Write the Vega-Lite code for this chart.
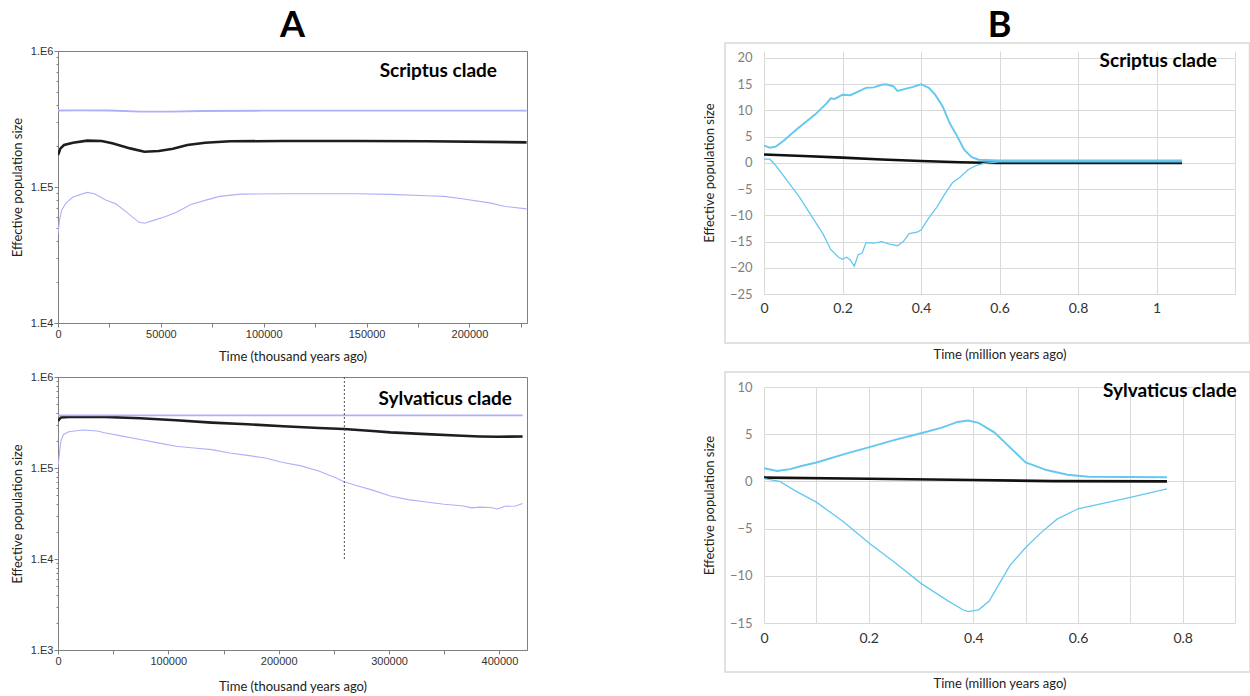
{
  "$schema": "https://vega.github.io/schema/vega-lite/v6.json",
  "background": "white",
  "padding": {"left": 10, "top": 7, "right": 0, "bottom": 0},
  "config": {"view": {"stroke": null}, "font": "Lato"},
  "resolve": {"scale": {"color": "independent", "strokeWidth": "independent"}},
  "datasets": {
    "aTop": [
      {"t": 0, "ne": 171700, "s": "median"}, {"t": 1200, "ne": 192300, "s": "median"}, {"t": 2950, "ne": 203500, "s": "median"}, {"t": 7300, "ne": 211800, "s": "median"}, {"t": 14200, "ne": 219100, "s": "median"}, {"t": 21200, "ne": 217900, "s": "median"}, {"t": 26400, "ne": 209400, "s": "median"}, {"t": 35100, "ne": 192300, "s": "median"}, {"t": 42000, "ne": 181700, "s": "median"}, {"t": 49000, "ne": 183800, "s": "median"}, {"t": 55900, "ne": 191200, "s": "median"}, {"t": 62900, "ne": 203500, "s": "median"}, {"t": 71500, "ne": 211800, "s": "median"}, {"t": 83700, "ne": 216700, "s": "median"}, {"t": 109700, "ne": 217900, "s": "median"}, {"t": 144400, "ne": 217900, "s": "median"}, {"t": 179200, "ne": 216700, "s": "median"}, {"t": 227800, "ne": 213000, "s": "median"},
      {"t": 0, "ne": 45100, "s": "lower"}, {"t": 700, "ne": 56600, "s": "lower"}, {"t": 1700, "ne": 67200, "s": "lower"}, {"t": 3800, "ne": 76100, "s": "lower"}, {"t": 7300, "ne": 84300, "s": "lower"}, {"t": 14200, "ne": 91300, "s": "lower"}, {"t": 17700, "ne": 89200, "s": "lower"}, {"t": 22900, "ne": 80600, "s": "lower"}, {"t": 28100, "ne": 75200, "s": "lower"}, {"t": 33300, "ne": 65300, "s": "lower"}, {"t": 39400, "ne": 55000, "s": "lower"}, {"t": 42000, "ne": 54100, "s": "lower"}, {"t": 47200, "ne": 57300, "s": "lower"}, {"t": 52400, "ne": 60600, "s": "lower"}, {"t": 57600, "ne": 65300, "s": "lower"}, {"t": 64600, "ne": 74400, "s": "lower"}, {"t": 71500, "ne": 79700, "s": "lower"}, {"t": 78500, "ne": 85300, "s": "lower"}, {"t": 88900, "ne": 88700, "s": "lower"}, {"t": 109700, "ne": 89200, "s": "lower"}, {"t": 144400, "ne": 89200, "s": "lower"}, {"t": 161800, "ne": 88200, "s": "lower"}, {"t": 179200, "ne": 86300, "s": "lower"}, {"t": 187800, "ne": 85300, "s": "lower"}, {"t": 196500, "ne": 82000, "s": "lower"}, {"t": 210400, "ne": 76100, "s": "lower"}, {"t": 217400, "ne": 71900, "s": "lower"}, {"t": 227800, "ne": 69100, "s": "lower"},
      {"t": 0, "ne": 365000, "s": "upper"}, {"t": 10000, "ne": 366000, "s": "upper"}, {"t": 25000, "ne": 365000, "s": "upper"}, {"t": 40000, "ne": 358000, "s": "upper"}, {"t": 55000, "ne": 358000, "s": "upper"}, {"t": 70000, "ne": 362000, "s": "upper"}, {"t": 100000, "ne": 364000, "s": "upper"}, {"t": 150000, "ne": 364000, "s": "upper"}, {"t": 227800, "ne": 364000, "s": "upper"}
    ],
    "aBot": [
      {"t": 0, "ne": 329400, "s": "median"}, {"t": 2600, "ne": 358700, "s": "median"}, {"t": 9700, "ne": 364900, "s": "median"}, {"t": 42100, "ne": 364900, "s": "median"}, {"t": 74500, "ne": 352600, "s": "median"}, {"t": 106900, "ne": 335000, "s": "median"}, {"t": 139300, "ne": 315600, "s": "median"}, {"t": 171700, "ne": 302400, "s": "median"}, {"t": 204000, "ne": 287200, "s": "median"}, {"t": 236400, "ne": 275300, "s": "median"}, {"t": 259100, "ne": 268300, "s": "median"}, {"t": 285000, "ne": 254800, "s": "median"}, {"t": 301200, "ne": 246300, "s": "median"}, {"t": 333600, "ne": 235900, "s": "median"}, {"t": 366000, "ne": 226100, "s": "median"}, {"t": 382200, "ne": 222300, "s": "median"}, {"t": 398400, "ne": 220300, "s": "median"}, {"t": 421000, "ne": 222300, "s": "median"},
      {"t": 0, "ne": 378000, "s": "upper"}, {"t": 421000, "ne": 378000, "s": "upper"},
      {"t": 0, "ne": 103800, "s": "lower"}, {"t": 2600, "ne": 197100, "s": "lower"}, {"t": 4900, "ne": 233900, "s": "lower"}, {"t": 9700, "ne": 250500, "s": "lower"}, {"t": 22700, "ne": 261500, "s": "lower"}, {"t": 35600, "ne": 254800, "s": "lower"}, {"t": 42100, "ne": 244200, "s": "lower"}, {"t": 58300, "ne": 224100, "s": "lower"}, {"t": 74500, "ne": 205800, "s": "lower"}, {"t": 90700, "ne": 188900, "s": "lower"}, {"t": 106900, "ne": 173400, "s": "lower"}, {"t": 123100, "ne": 166200, "s": "lower"}, {"t": 139300, "ne": 159200, "s": "lower"}, {"t": 155500, "ne": 146200, "s": "lower"}, {"t": 171700, "ne": 137700, "s": "lower"}, {"t": 187900, "ne": 128600, "s": "lower"}, {"t": 204000, "ne": 115100, "s": "lower"}, {"t": 220200, "ne": 105600, "s": "lower"}, {"t": 236400, "ne": 92900, "s": "lower"}, {"t": 252600, "ne": 77000, "s": "lower"}, {"t": 259100, "ne": 70700, "s": "lower"}, {"t": 268800, "ne": 64900, "s": "lower"}, {"t": 285000, "ne": 57100, "s": "lower"}, {"t": 301200, "ne": 49300, "s": "lower"}, {"t": 317400, "ne": 44900, "s": "lower"}, {"t": 333600, "ne": 42300, "s": "lower"}, {"t": 349800, "ne": 40000, "s": "lower"}, {"t": 366000, "ne": 38500, "s": "lower"}, {"t": 375000, "ne": 36500, "s": "lower"}, {"t": 382200, "ne": 37200, "s": "lower"}, {"t": 391900, "ne": 36800, "s": "lower"}, {"t": 398400, "ne": 35500, "s": "lower"}, {"t": 404900, "ne": 38000, "s": "lower"}, {"t": 414600, "ne": 38200, "s": "lower"}, {"t": 421000, "ne": 40800, "s": "lower"}
    ],
    "bTop": [
      {"t": 0, "ne": 1.6, "s": "median"}, {"t": 0.1, "ne": 1.3, "s": "median"}, {"t": 0.2, "ne": 1.0, "s": "median"}, {"t": 0.3, "ne": 0.65, "s": "median"}, {"t": 0.4, "ne": 0.35, "s": "median"}, {"t": 0.5, "ne": 0.12, "s": "median"}, {"t": 0.56, "ne": 0.03, "s": "median"}, {"t": 0.6, "ne": 0.0, "s": "median"}, {"t": 1.065, "ne": 0.0, "s": "median"},
      {"t": 0, "ne": 3.3, "s": "upper"}, {"t": 0.015, "ne": 2.9, "s": "upper"}, {"t": 0.03, "ne": 3.1, "s": "upper"}, {"t": 0.05, "ne": 4.2, "s": "upper"}, {"t": 0.085, "ne": 6.5, "s": "upper"}, {"t": 0.13, "ne": 9.2, "s": "upper"}, {"t": 0.16, "ne": 11.4, "s": "upper"}, {"t": 0.17, "ne": 12.3, "s": "upper"}, {"t": 0.18, "ne": 12.2, "s": "upper"}, {"t": 0.2, "ne": 13.0, "s": "upper"}, {"t": 0.22, "ne": 12.9, "s": "upper"}, {"t": 0.24, "ne": 13.6, "s": "upper"}, {"t": 0.26, "ne": 14.3, "s": "upper"}, {"t": 0.28, "ne": 14.4, "s": "upper"}, {"t": 0.3, "ne": 14.9, "s": "upper"}, {"t": 0.31, "ne": 15.0, "s": "upper"}, {"t": 0.32, "ne": 14.8, "s": "upper"}, {"t": 0.33, "ne": 14.6, "s": "upper"}, {"t": 0.34, "ne": 13.7, "s": "upper"}, {"t": 0.36, "ne": 14.1, "s": "upper"}, {"t": 0.38, "ne": 14.5, "s": "upper"}, {"t": 0.4, "ne": 15.0, "s": "upper"}, {"t": 0.42, "ne": 14.3, "s": "upper"}, {"t": 0.436, "ne": 13.0, "s": "upper"}, {"t": 0.455, "ne": 10.8, "s": "upper"}, {"t": 0.473, "ne": 7.6, "s": "upper"}, {"t": 0.492, "ne": 5.1, "s": "upper"}, {"t": 0.51, "ne": 2.5, "s": "upper"}, {"t": 0.529, "ne": 1.1, "s": "upper"}, {"t": 0.547, "ne": 0.6, "s": "upper"}, {"t": 0.6, "ne": 0.45, "s": "upper"}, {"t": 1.065, "ne": 0.45, "s": "upper"},
      {"t": 0, "ne": 0.7, "s": "lower"}, {"t": 0.015, "ne": 0.7, "s": "lower"}, {"t": 0.03, "ne": -0.5, "s": "lower"}, {"t": 0.06, "ne": -3.5, "s": "lower"}, {"t": 0.09, "ne": -6.5, "s": "lower"}, {"t": 0.12, "ne": -10.0, "s": "lower"}, {"t": 0.15, "ne": -13.5, "s": "lower"}, {"t": 0.17, "ne": -16.5, "s": "lower"}, {"t": 0.19, "ne": -18.0, "s": "lower"}, {"t": 0.2, "ne": -18.4, "s": "lower"}, {"t": 0.21, "ne": -18.0, "s": "lower"}, {"t": 0.22, "ne": -18.5, "s": "lower"}, {"t": 0.23, "ne": -19.7, "s": "lower"}, {"t": 0.24, "ne": -17.5, "s": "lower"}, {"t": 0.25, "ne": -17.2, "s": "lower"}, {"t": 0.26, "ne": -15.2, "s": "lower"}, {"t": 0.28, "ne": -15.3, "s": "lower"}, {"t": 0.3, "ne": -15.0, "s": "lower"}, {"t": 0.32, "ne": -15.5, "s": "lower"}, {"t": 0.34, "ne": -15.8, "s": "lower"}, {"t": 0.355, "ne": -15.0, "s": "lower"}, {"t": 0.37, "ne": -13.5, "s": "lower"}, {"t": 0.39, "ne": -13.2, "s": "lower"}, {"t": 0.4, "ne": -12.8, "s": "lower"}, {"t": 0.42, "ne": -10.5, "s": "lower"}, {"t": 0.44, "ne": -8.5, "s": "lower"}, {"t": 0.46, "ne": -6.0, "s": "lower"}, {"t": 0.48, "ne": -3.8, "s": "lower"}, {"t": 0.5, "ne": -2.7, "s": "lower"}, {"t": 0.52, "ne": -1.3, "s": "lower"}, {"t": 0.54, "ne": -0.5, "s": "lower"}, {"t": 0.56, "ne": -0.1, "s": "lower"}, {"t": 0.6, "ne": 0.2, "s": "lower"}, {"t": 1.065, "ne": 0.2, "s": "lower"}
    ],
    "bBot": [
      {"t": 0, "ne": 0.4, "s": "median"}, {"t": 0.2, "ne": 0.28, "s": "median"}, {"t": 0.4, "ne": 0.15, "s": "median"}, {"t": 0.55, "ne": 0.03, "s": "median"}, {"t": 0.77, "ne": 0.0, "s": "median"},
      {"t": 0, "ne": 1.4, "s": "upper"}, {"t": 0.025, "ne": 1.1, "s": "upper"}, {"t": 0.05, "ne": 1.3, "s": "upper"}, {"t": 0.07, "ne": 1.6, "s": "upper"}, {"t": 0.1, "ne": 2.0, "s": "upper"}, {"t": 0.16, "ne": 3.0, "s": "upper"}, {"t": 0.2, "ne": 3.6, "s": "upper"}, {"t": 0.25, "ne": 4.4, "s": "upper"}, {"t": 0.3, "ne": 5.1, "s": "upper"}, {"t": 0.34, "ne": 5.7, "s": "upper"}, {"t": 0.37, "ne": 6.3, "s": "upper"}, {"t": 0.39, "ne": 6.45, "s": "upper"}, {"t": 0.41, "ne": 6.2, "s": "upper"}, {"t": 0.44, "ne": 5.2, "s": "upper"}, {"t": 0.47, "ne": 3.6, "s": "upper"}, {"t": 0.5, "ne": 2.0, "s": "upper"}, {"t": 0.54, "ne": 1.2, "s": "upper"}, {"t": 0.58, "ne": 0.7, "s": "upper"}, {"t": 0.62, "ne": 0.5, "s": "upper"}, {"t": 0.77, "ne": 0.45, "s": "upper"},
      {"t": 0, "ne": 0.3, "s": "lower"}, {"t": 0.03, "ne": 0.0, "s": "lower"}, {"t": 0.06, "ne": -1.0, "s": "lower"}, {"t": 0.1, "ne": -2.2, "s": "lower"}, {"t": 0.15, "ne": -4.2, "s": "lower"}, {"t": 0.2, "ne": -6.5, "s": "lower"}, {"t": 0.25, "ne": -8.6, "s": "lower"}, {"t": 0.3, "ne": -10.8, "s": "lower"}, {"t": 0.35, "ne": -12.6, "s": "lower"}, {"t": 0.38, "ne": -13.6, "s": "lower"}, {"t": 0.39, "ne": -13.8, "s": "lower"}, {"t": 0.41, "ne": -13.6, "s": "lower"}, {"t": 0.43, "ne": -12.7, "s": "lower"}, {"t": 0.45, "ne": -10.8, "s": "lower"}, {"t": 0.47, "ne": -8.9, "s": "lower"}, {"t": 0.5, "ne": -7.0, "s": "lower"}, {"t": 0.53, "ne": -5.4, "s": "lower"}, {"t": 0.56, "ne": -4.0, "s": "lower"}, {"t": 0.6, "ne": -2.9, "s": "lower"}, {"t": 0.65, "ne": -2.3, "s": "lower"}, {"t": 0.7, "ne": -1.7, "s": "lower"}, {"t": 0.77, "ne": -0.8, "s": "lower"}
    ]
  },
  "spacing": 175,
  "hconcat": [
    {
      "spacing": 6,
      "vconcat": [
        {
          "width": 469, "height": 272,
          "view": {"stroke": "#808080", "strokeWidth": 1},
          "title": {"text": "A", "font": "Lato", "fontSize": 36, "fontWeight": "bold", "color": "#000", "anchor": "middle", "baseline": "alphabetic", "offset": -28},
          "layer": [
            {
              "data": {"name": "aTop"},
              "mark": {"type": "line", "clip": true},
              "encoding": {
                "x": {"field": "t", "type": "quantitative", "scale": {"domain": [0, 228000], "nice": false, "zero": false},
                  "axis": {"title": "Time (thousand years ago)", "values": [0, 25000, 50000, 75000, 100000, 125000, 150000, 175000, 200000, 225000], "tickCount": 50, "format": "d", "labelExpr": "datum.value % 50000 == 0 ? datum.label : ''", "labelFlush": false, "labelOverlap": false, "grid": false, "domainColor": "#808080", "tickColor": "#808080", "tickSize": 4, "labelFont": "Liberation Sans", "labelFontSize": 11, "labelColor": "#333", "labelPadding": 1, "titleFont": "Lato", "titleFontSize": 13, "titleFontWeight": "normal", "titleColor": "#222", "titlePadding": 11}},
                "y": {"field": "ne", "type": "quantitative", "scale": {"type": "log", "domain": [10000, 1000000], "nice": false},
                  "axis": {"title": "Effective population size", "values": [10000, 20000, 30000, 40000, 50000, 60000, 70000, 80000, 90000, 100000, 200000, 300000, 400000, 500000, 600000, 700000, 800000, 900000, 1000000], "tickCount": 50, "labelExpr": "abs(log(datum.value)/LN10 - round(log(datum.value)/LN10)) < 0.001 ? '1.E' + round(log(datum.value)/LN10) : ''", "labelOverlap": false, "tickSize": {"condition": {"test": "abs(log(datum.value)/LN10 - round(log(datum.value)/LN10)) < 0.001", "value": 4}, "value": 2}, "grid": false, "domainColor": "#808080", "tickColor": "#808080", "labelFont": "Liberation Sans", "labelFontSize": 11, "labelColor": "#333", "labelPadding": 1, "titleFont": "Lato", "titleFontSize": 13, "titleFontWeight": "normal", "titleColor": "#222", "titlePadding": 6}},
                "detail": {"field": "s"},
                "color": {"field": "s", "scale": {"domain": ["median", "upper", "lower"], "range": ["#1e1e1e", "#aeb0f8", "#aeb0f8"]}, "legend": null},
                "strokeWidth": {"field": "s", "scale": {"domain": ["median", "upper", "lower"], "range": [2.6, 1.1, 1.1]}, "legend": null}
              }
            },
            {
              "data": {"values": [{"label": "Scriptus clade"}]},
              "mark": {"type": "text", "align": "right", "baseline": "middle", "font": "Lato", "fontSize": 19, "fontWeight": "bold", "color": "#000"},
              "encoding": {
                "x": {"datum": 213400, "type": "quantitative"},
                "y": {"datum": 713000, "type": "quantitative"},
                "text": {"field": "label"}
              }
            }
          ]
        },
        {
          "width": 469, "height": 273,
          "view": {"stroke": "#808080", "strokeWidth": 1},
          "layer": [
            {
              "data": {"name": "aBot"},
              "mark": {"type": "line", "clip": true},
              "encoding": {
                "x": {"field": "t", "type": "quantitative", "scale": {"domain": [0, 425000], "nice": false, "zero": false},
                  "axis": {"title": "Time (thousand years ago)", "values": [0, 50000, 100000, 150000, 200000, 250000, 300000, 350000, 400000], "tickCount": 50, "format": "d", "labelExpr": "datum.value % 100000 == 0 ? datum.label : ''", "labelFlush": false, "labelOverlap": false, "grid": false, "domainColor": "#808080", "tickColor": "#808080", "tickSize": 4, "labelFont": "Liberation Sans", "labelFontSize": 11, "labelColor": "#333", "labelPadding": 1, "titleFont": "Lato", "titleFontSize": 13, "titleFontWeight": "normal", "titleColor": "#222", "titlePadding": 14}},
                "y": {"field": "ne", "type": "quantitative", "scale": {"type": "log", "domain": [1000, 1000000], "nice": false},
                  "axis": {"title": "Effective population size", "values": [1000, 2000, 3000, 4000, 5000, 6000, 7000, 8000, 9000, 10000, 20000, 30000, 40000, 50000, 60000, 70000, 80000, 90000, 100000, 200000, 300000, 400000, 500000, 600000, 700000, 800000, 900000, 1000000], "tickCount": 50, "labelExpr": "abs(log(datum.value)/LN10 - round(log(datum.value)/LN10)) < 0.001 ? '1.E' + round(log(datum.value)/LN10) : ''", "labelOverlap": false, "tickSize": {"condition": {"test": "abs(log(datum.value)/LN10 - round(log(datum.value)/LN10)) < 0.001", "value": 4}, "value": 2}, "grid": false, "domainColor": "#808080", "tickColor": "#808080", "labelFont": "Liberation Sans", "labelFontSize": 11, "labelColor": "#333", "labelPadding": 1, "titleFont": "Lato", "titleFontSize": 13, "titleFontWeight": "normal", "titleColor": "#222", "titlePadding": 6}},
                "detail": {"field": "s"},
                "color": {"field": "s", "scale": {"domain": ["median", "upper", "lower"], "range": ["#1e1e1e", "#aeb0f8", "#aeb0f8"]}, "legend": null},
                "strokeWidth": {"field": "s", "scale": {"domain": ["median", "upper", "lower"], "range": [2.6, 1.1, 1.1]}, "legend": null}
              }
            },
            {
              "data": {"values": [{"label": "marker"}]},
              "mark": {"type": "rule", "color": "#555", "strokeWidth": 1, "strokeDash": [2, 2]},
              "encoding": {
                "x": {"datum": 259500, "type": "quantitative"},
                "y": {"datum": 10000, "type": "quantitative"},
                "y2": {"datum": 1000000}
              }
            },
            {
              "data": {"values": [{"label": "Sylvaticus clade"}]},
              "mark": {"type": "text", "align": "right", "baseline": "middle", "font": "Lato", "fontSize": 19, "fontWeight": "bold", "color": "#000"},
              "encoding": {
                "x": {"datum": 411400, "type": "quantitative"},
                "y": {"datum": 573000, "type": "quantitative"},
                "text": {"field": "label"}
              }
            }
          ]
        }
      ]
    },
    {
      "spacing": 10,
      "vconcat": [
        {
          "width": 471, "height": 243,
          "title": {"text": "B", "font": "Lato", "fontSize": 36, "fontWeight": "bold", "color": "#000", "anchor": "middle", "baseline": "alphabetic", "offset": -31},
          "layer": [
            {
              "data": {"name": "bTop"},
              "mark": {"type": "line", "clip": true},
              "encoding": {
                "x": {"field": "t", "type": "quantitative", "scale": {"domain": [0, 1.2], "nice": false, "zero": false},
                  "axis": {"title": "Time (million years ago)", "values": [0, 0.2, 0.4, 0.6, 0.8, 1, 1.2], "tickCount": 50, "format": "~g", "labelExpr": "datum.value > 1.1 ? '' : datum.label", "labelFlush": false, "labelOverlap": false, "grid": true, "gridColor": "#d9d9d9", "gridWidth": 1, "domain": false, "ticks": false, "labelFont": "Lato", "labelFontSize": 14, "labelColor": "#333", "labelPadding": 7, "titleFont": "Lato", "titleFontSize": 13, "titleFontWeight": "normal", "titleColor": "#222", "titlePadding": 33}},
                "y": {"field": "ne", "type": "quantitative", "scale": {"domain": [-25, 21.33], "nice": false, "zero": false},
                  "axis": {"title": "Effective population size", "values": [-25, -20, -15, -10, -5, 0, 5, 10, 15, 20], "tickCount": 50, "format": "d", "labelOverlap": false, "grid": true, "gridColor": "#d9d9d9", "gridWidth": 1, "domain": false, "ticks": false, "labelFont": "Lato", "labelFontSize": 13, "labelColor": "#7f7f7f", "labelPadding": 12, "titleFont": "Lato", "titleFontSize": 13, "titleFontWeight": "normal", "titleColor": "#222", "titlePadding": 13}},
                "detail": {"field": "s"},
                "color": {"field": "s", "scale": {"domain": ["median", "upper", "lower"], "range": ["#111111", "#64c8f0", "#64c8f0"]}, "legend": null},
                "strokeWidth": {"field": "s", "scale": {"domain": ["median", "upper", "lower"], "range": [2.6, 1.3, 1.3]}, "legend": null}
              }
            },
            {
              "data": {"values": [{"label": "frame"}]},
              "mark": {"type": "rect", "filled": false, "stroke": "#d9d9d9", "strokeWidth": 1.5, "clip": false},
              "encoding": {
                "x": {"datum": -0.0994, "type": "quantitative"},
                "x2": {"datum": 1.237},
                "y": {"datum": 22.86, "type": "quantitative"},
                "y2": {"datum": -34.34}
              }
            },
            {
              "data": {"values": [{"label": "Scriptus clade"}]},
              "mark": {"type": "text", "align": "right", "baseline": "middle", "font": "Lato", "fontSize": 19, "fontWeight": "bold", "color": "#000"},
              "encoding": {
                "x": {"datum": 1.154, "type": "quantitative"},
                "y": {"datum": 19.43, "type": "quantitative"},
                "text": {"field": "label"}
              }
            }
          ]
        },
        {
          "width": 471, "height": 236,
          "layer": [
            {
              "data": {"name": "bBot"},
              "mark": {"type": "line", "clip": true},
              "encoding": {
                "x": {"field": "t", "type": "quantitative", "scale": {"domain": [0, 0.9], "nice": false, "zero": false},
                  "axis": {"title": "Time (million years ago)", "values": [0, 0.1, 0.2, 0.3, 0.4, 0.5, 0.6, 0.7, 0.8, 0.9], "tickCount": 50, "format": "~g", "labelExpr": "(round(datum.value * 10) % 2 == 0 && datum.value < 0.85) ? datum.label : ''", "labelFlush": false, "labelOverlap": false, "grid": true, "gridColor": "#d9d9d9", "gridWidth": 1, "domain": false, "ticks": false, "labelFont": "Lato", "labelFontSize": 14, "labelColor": "#333", "labelPadding": 8, "titleFont": "Lato", "titleFontSize": 13, "titleFontWeight": "normal", "titleColor": "#222", "titlePadding": 32}},
                "y": {"field": "ne", "type": "quantitative", "scale": {"domain": [-15, 10], "nice": false, "zero": false},
                  "axis": {"title": "Effective population size", "values": [-15, -10, -5, 0, 5, 10], "tickCount": 50, "format": "d", "labelOverlap": false, "grid": true, "gridColor": "#d9d9d9", "gridWidth": 1, "domain": false, "ticks": false, "labelFont": "Lato", "labelFontSize": 13, "labelColor": "#7f7f7f", "labelPadding": 12, "titleFont": "Lato", "titleFontSize": 13, "titleFontWeight": "normal", "titleColor": "#222", "titlePadding": 13}},
                "detail": {"field": "s"},
                "color": {"field": "s", "scale": {"domain": ["median", "upper", "lower"], "range": ["#111111", "#64c8f0", "#64c8f0"]}, "legend": null},
                "strokeWidth": {"field": "s", "scale": {"domain": ["median", "upper", "lower"], "range": [2.6, 1.3, 1.3]}, "legend": null}
              }
            },
            {
              "data": {"values": [{"label": "frame"}]},
              "mark": {"type": "rect", "filled": false, "stroke": "#d9d9d9", "strokeWidth": 1.5, "clip": false},
              "encoding": {
                "x": {"datum": -0.0745, "type": "quantitative"},
                "x2": {"datum": 0.9287},
                "y": {"datum": 11.59, "type": "quantitative"},
                "y2": {"datum": -20.19}
              }
            },
            {
              "data": {"values": [{"label": "Sylvaticus clade"}]},
              "mark": {"type": "text", "align": "right", "baseline": "middle", "font": "Lato", "fontSize": 19, "fontWeight": "bold", "color": "#000"},
              "encoding": {
                "x": {"datum": 0.903, "type": "quantitative"},
                "y": {"datum": 9.58, "type": "quantitative"},
                "text": {"field": "label"}
              }
            }
          ]
        }
      ]
    }
  ]
}
